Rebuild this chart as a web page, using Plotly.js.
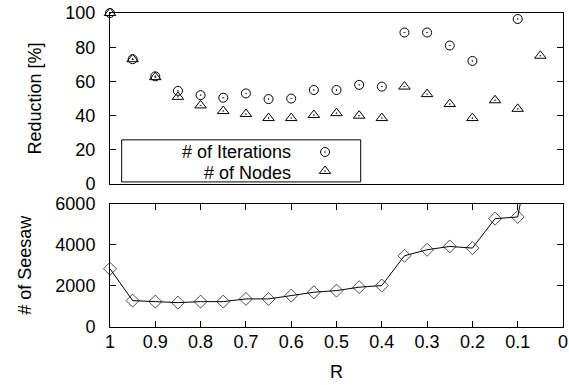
<!DOCTYPE html>
<html>
<head>
<meta charset="utf-8">
<script src="https://cdn.plot.ly/plotly-3.0.1.min.js"></script>
<style>html,body{margin:0;padding:0;background:#fff;}#chart{width:569px;height:385px;}</style>
</head>
<body>
<div id="chart"></div>
<script>
// R values (x axis, reversed)
var R = [1, 0.95, 0.9, 0.85, 0.8, 0.75, 0.7, 0.65, 0.6, 0.55, 0.5, 0.45, 0.4, 0.35, 0.3, 0.25, 0.2, 0.15, 0.1, 0.05];
// Reduction [%] of # of Iterations (null = off chart)
var iterations = [100, 73, 63, 54.5, 52, 50.5, 53, 49.7, 50, 55, 55, 58, 57, 88.6, 88.6, 81, 72, null, 96.5, null];
// Reduction [%] of # of Nodes
var nodes = [100, 73, 62.5, 51, 46, 42.7, 41, 38.6, 38.6, 40.4, 41.5, 40, 38.6, 57, 52.6, 46.8, 38.6, 49, 44, 75];
// # of Seesaw
var seesaw = [2830, 1283, 1234, 1185, 1234, 1234, 1366, 1366, 1527, 1690, 1770, 1935, 2015, 3463, 3756, 3917, 3837, 5268, 5350, 11000];

var xTickVals = [1, 0.9, 0.8, 0.7, 0.6, 0.5, 0.4, 0.3, 0.2, 0.1, 0];
var xTickText = ['1', '0.9', '0.8', '0.7', '0.6', '0.5', '0.4', '0.3', '0.2', '0.1', '0'];
var yTopTicks = [0, 20, 40, 60, 80, 100];
var yBotTicks = [0, 2000, 4000, 6000];

var FONT = 'Liberation Sans, Arial, Helvetica, sans-serif';
var FS = 18;
var seesawMax = 6000;

var traces = [
  {
    x: R, y: iterations, name: ' ', xaxis: 'x2', yaxis: 'y2', legend: 'legend',
    mode: 'markers', type: 'scatter', cliponaxis: false,
    marker: {symbol: 'circle-open-dot', size: 9, color: '#000', line: {width: 1, color: '#000'}},
    showlegend: true
  },
  {
    x: R, y: nodes, name: ' ', xaxis: 'x2', yaxis: 'y2', legend: 'legend2',
    mode: 'markers', type: 'scatter', cliponaxis: false,
    marker: {symbol: 'triangle-up-open-dot', size: 10, color: '#000', line: {width: 1, color: '#000'}},
    showlegend: true
  },
  {
    x: R, y: seesaw, name: 'seesaw', xaxis: 'x', yaxis: 'y',
    mode: 'lines+markers', type: 'scatter', cliponaxis: false,
    line: {color: '#000', width: 1},
    marker: {symbol: 'diamond-open', size: seesaw.map(function(v){ return v > seesawMax ? 0 : 10; }), color: '#000', line: {width: 1, color: '#000'}},
    showlegend: false
  }
];

var axisCommon = {
  showline: true, linecolor: '#000', linewidth: 1, mirror: 'ticks',
  ticks: 'inside', ticklen: 6, tickcolor: '#000', tickwidth: 1,
  showgrid: false, zeroline: false,
  tickfont: {family: FONT, size: FS, color: '#000'}
};

function ax(extra) { return Object.assign({}, axisCommon, extra); }

var legendCommon = {
  xanchor: 'left', yanchor: 'top',
  bgcolor: 'rgba(0,0,0,0)', borderwidth: 0,
  font: {family: FONT, size: 10, color: '#000'},
  tracegroupgap: 0, itemwidth: 30
};

var layout = {
  width: 569, height: 385,
  margin: {l: 110, r: 6, t: 13, b: 58},
  paper_bgcolor: '#fff', plot_bgcolor: '#fff',
  font: {family: FONT, size: FS, color: '#000'},
  xaxis: ax({
    domain: [0, 1], anchor: 'y', range: [1, 0], autorange: false,
    tickmode: 'array', tickvals: xTickVals, ticktext: xTickText,
    ticklabelstandoff: -2,
    title: {text: 'R', font: {family: FONT, size: FS, color: '#000'}, standoff: 14}
  }),
  yaxis: ax({
    domain: [0, 0.393], anchor: 'x', range: [0, 6000], autorange: false,
    tickmode: 'array', tickvals: yBotTicks, ticktext: yBotTicks.map(String),
    ticklabelstandoff: 10,
    title: {text: '# of Seesaw', font: {family: FONT, size: FS, color: '#000'}, standoff: 19}
  }),
  xaxis2: ax({
    domain: [0, 1], anchor: 'y2', range: [1, 0], autorange: false,
    ticks: '', showticklabels: false, mirror: true, matches: 'x'
  }),
  yaxis2: ax({
    domain: [0.455, 1], anchor: 'x2', range: [0, 100], autorange: false,
    tickmode: 'array', tickvals: yTopTicks, ticktext: yTopTicks.map(String),
    ticklabelstandoff: 10,
    title: {text: 'Reduction [%]', font: {family: FONT, size: FS, color: '#000'}, standoff: 19}
  }),
  showlegend: true,
  legend: Object.assign({}, legendCommon, {x: 0.4305, y: 0.6035}),
  legend2: Object.assign({}, legendCommon, {x: 0.4305, y: 0.543}),
  shapes: [
    {type: 'rect', xref: 'paper', yref: 'paper', x0: 0.0258, x1: 0.5534, y0: 0.462, y1: 0.596,
     line: {color: '#000', width: 1}, fillcolor: 'rgba(0,0,0,0)'}
  ],
  annotations: [
    {text: '# of Iterations', xref: 'paper', yref: 'paper', x: 0.404, y: 0.557,
     xanchor: 'right', yanchor: 'middle', showarrow: false, font: {family: FONT, size: FS, color: '#000'}},
    {text: '# of Nodes', xref: 'paper', yref: 'paper', x: 0.404, y: 0.49,
     xanchor: 'right', yanchor: 'middle', showarrow: false, font: {family: FONT, size: FS, color: '#000'}}
  ]
};

Plotly.newPlot('chart', traces, layout, {staticPlot: true, displayModeBar: false});
</script>
</body>
</html>
